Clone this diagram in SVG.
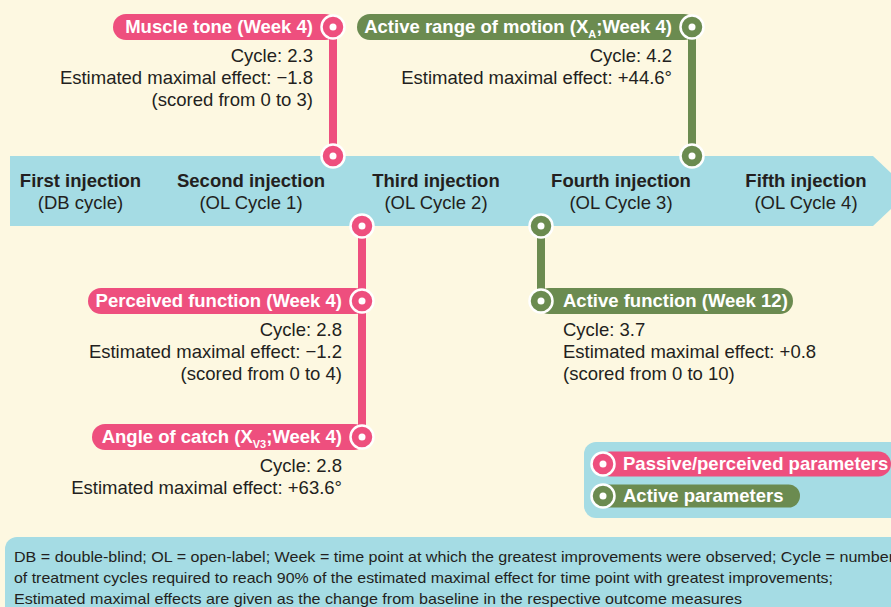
<svg xmlns="http://www.w3.org/2000/svg" width="891" height="607" viewBox="0 0 891 607">
<defs>
<style>
.t{font-family:"Liberation Sans",Arial,sans-serif;font-size:18.5px;fill:#231F20}
.b{font-family:"Liberation Sans",Arial,sans-serif;font-size:18.5px;font-weight:bold}
.w{fill:#ffffff}
.k{fill:#231F20}
.sub{font-size:11px}
.pk{fill:#EE4F7E}
.gr{fill:#6B8B50}
.dotp{fill:#EE4F7E;stroke:#ffffff;stroke-width:2.5}
.dotg{fill:#6B8B50;stroke:#ffffff;stroke-width:2.5}
.lp{stroke:#EE4F7E;stroke-width:8}
.lg{stroke:#6B8B50;stroke-width:8}
.fn{font-family:"Liberation Sans Narrow","Liberation Sans",Arial,sans-serif;font-size:15px;fill:#231F20}
</style>
</defs>
<rect x="0" y="0" width="891" height="607" fill="#FDF8E1"/>

<g id="timeline">
<polygon points="10,156 873,156 910,191 873,226 10,226" fill="#A5DCE4"/>
<text class="b k" x="80.5" y="187" text-anchor="middle">First injection</text>
<text class="t" x="80.5" y="209" text-anchor="middle">(DB cycle)</text>
<text class="b k" x="251" y="187" text-anchor="middle">Second injection</text>
<text class="t" x="251" y="209" text-anchor="middle">(OL Cycle 1)</text>
<text class="b k" x="436" y="187" text-anchor="middle">Third injection</text>
<text class="t" x="436" y="209" text-anchor="middle">(OL Cycle 2)</text>
<text class="b k" x="621" y="187" text-anchor="middle">Fourth injection</text>
<text class="t" x="621" y="209" text-anchor="middle">(OL Cycle 3)</text>
<text class="b k" x="806" y="187" text-anchor="middle">Fifth injection</text>
<text class="t" x="806" y="209" text-anchor="middle">(OL Cycle 4)</text>
</g>

<g id="connectors">
<line class="lp" x1="333" y1="27" x2="333" y2="156"/>
<line class="lg" x1="692" y1="27" x2="692" y2="156"/>
<line class="lp" x1="362" y1="226" x2="362" y2="437"/>
<line class="lg" x1="541" y1="226" x2="541" y2="300"/>
<g><circle cx="333" cy="156" r="11.5" class="dotp"/><circle cx="333" cy="156" r="3.5" fill="#fff"/></g>
<g><circle cx="692" cy="156" r="11.5" class="dotg"/><circle cx="692" cy="156" r="3.5" fill="#fff"/></g>
<g><circle cx="362" cy="226" r="11.5" class="dotp"/><circle cx="362" cy="226" r="3.5" fill="#fff"/></g>
<g><circle cx="541" cy="226" r="11.5" class="dotg"/><circle cx="541" cy="226" r="3.5" fill="#fff"/></g>
</g>

<g id="muscle-tone">
<rect x="113" y="14" width="225" height="26" rx="13" class="pk"/>
<circle cx="333" cy="27" r="11.5" class="dotp"/><circle cx="333" cy="27" r="3.5" fill="#fff"/>
<text class="b w" x="313" y="33" text-anchor="end">Muscle tone (Week 4)</text>
<text class="t" x="313" y="61.5" text-anchor="end">Cycle: 2.3</text>
<text class="t" x="313" y="83.5" text-anchor="end">Estimated maximal effect: −1.8</text>
<text class="t" x="313" y="105.5" text-anchor="end">(scored from 0 to 3)</text>
</g>

<g id="active-range">
<rect x="357" y="14" width="340" height="26" rx="13" class="gr"/>
<circle cx="692" cy="27" r="11.5" class="dotg"/><circle cx="692" cy="27" r="3.5" fill="#fff"/>
<text class="b w" x="672" y="33" text-anchor="end">Active range of motion (X<tspan class="sub" dy="5">A</tspan><tspan dy="-5">;Week 4)</tspan></text>
<text class="t" x="672" y="61.5" text-anchor="end">Cycle: 4.2</text>
<text class="t" x="672" y="83.5" text-anchor="end">Estimated maximal effect: +44.6°</text>
</g>

<g id="perceived-function">
<rect x="88" y="288" width="280" height="26" rx="13" class="pk"/>
<circle cx="362" cy="301" r="11.5" class="dotp"/><circle cx="362" cy="301" r="3.5" fill="#fff"/>
<text class="b w" x="342" y="307" text-anchor="end">Perceived function (Week 4)</text>
<text class="t" x="342" y="335.5" text-anchor="end">Cycle: 2.8</text>
<text class="t" x="342" y="357.5" text-anchor="end">Estimated maximal effect: −1.2</text>
<text class="t" x="342" y="379.5" text-anchor="end">(scored from 0 to 4)</text>
</g>

<g id="angle-of-catch">
<rect x="92" y="424" width="275" height="26" rx="13" class="pk"/>
<circle cx="362" cy="437" r="11.5" class="dotp"/><circle cx="362" cy="437" r="3.5" fill="#fff"/>
<text class="b w" x="342" y="443" text-anchor="end">Angle of catch (X<tspan class="sub" dy="5">V3</tspan><tspan dy="-5">;Week 4)</tspan></text>
<text class="t" x="342" y="471.5" text-anchor="end">Cycle: 2.8</text>
<text class="t" x="342" y="493.5" text-anchor="end">Estimated maximal effect: +63.6°</text>
</g>

<g id="active-function">
<rect x="536" y="288" width="257" height="26" rx="13" class="gr"/>
<circle cx="541" cy="301" r="11.5" class="dotg"/><circle cx="541" cy="301" r="3.5" fill="#fff"/>
<text class="b w" x="563" y="307">Active function (Week 12)</text>
<text class="t" x="563" y="335.5">Cycle: 3.7</text>
<text class="t" x="563" y="357.5">Estimated maximal effect: +0.8</text>
<text class="t" x="563" y="379.5">(scored from 0 to 10)</text>
</g>

<g id="legend">
<rect x="584" y="442" width="330" height="76" rx="12" fill="#A5DCE4"/>
<rect x="598" y="451.5" width="293" height="25" rx="12.5" class="pk"/>
<circle cx="603" cy="464" r="11.5" class="dotp"/><circle cx="603" cy="464" r="3.5" fill="#fff"/>
<text class="b w" x="623" y="470">Passive/perceived parameters</text>
<rect x="598" y="484.5" width="202" height="23" rx="11.5" class="gr"/>
<circle cx="603" cy="496" r="11.5" class="dotg"/><circle cx="603" cy="496" r="3.5" fill="#fff"/>
<text class="b w" x="623" y="502">Active parameters</text>
</g>

<g id="footnote">
<rect x="5" y="537" width="910" height="90" rx="12" fill="#A5DCE4"/>
<text class="fn" x="14" y="562" textLength="880" lengthAdjust="spacingAndGlyphs">DB = double-blind; OL = open-label; Week = time point at which the greatest improvements were observed; Cycle = number</text>
<text class="fn" x="14" y="583" textLength="819" lengthAdjust="spacingAndGlyphs">of treatment cycles required to reach 90% of the estimated maximal effect for time point with greatest improvements;</text>
<text class="fn" x="14" y="604" textLength="728" lengthAdjust="spacingAndGlyphs">Estimated maximal effects are given as the change from baseline in the respective outcome measures</text>
</g>
</svg>
